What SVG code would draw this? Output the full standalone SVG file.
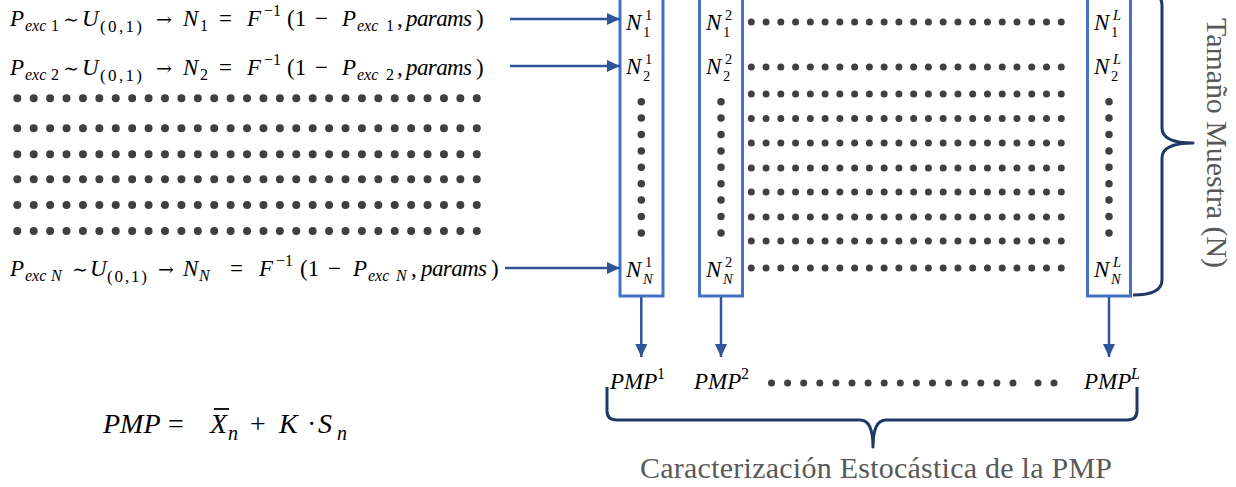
<svg xmlns="http://www.w3.org/2000/svg" width="1236" height="487" viewBox="0 0 1236 487">
<style>
.m{font-family:"Liberation Serif",serif;font-size:23px;fill:#000}
.i{font-style:italic}
.s{font-size:16px}
.b{font-size:14.5px}
.s2{font-size:17px}
.op{font-family:"DejaVu Serif","Liberation Serif",serif;font-size:19px}
.f{font-size:28px}
.fs{font-size:20px}
.dl{stroke:#404040;stroke-width:8;stroke-linecap:round;stroke-dasharray:0 16.41;fill:none}
.dm{stroke:#404040;stroke-width:7;stroke-linecap:round;stroke-dasharray:0 14.76;fill:none}
.dv{stroke:#404040;stroke-width:7.5;stroke-linecap:round;stroke-dasharray:0 16.4;fill:none}
.dp{stroke:#404040;stroke-width:7;stroke-linecap:round;stroke-dasharray:0 16.1;fill:none}
.box{fill:#fff;stroke:#4472C4;stroke-width:3}
.arr{stroke:#2F5597;stroke-width:2.5;fill:none}
.brace{stroke:#1F3864;stroke-width:3;fill:none;stroke-linejoin:round}
.lbl{font-family:"Liberation Serif","Times New Roman",serif;font-size:30px;fill:#595959}
</style>
<defs>
<marker id="ah" markerUnits="userSpaceOnUse" markerWidth="13" markerHeight="12" refX="13" refY="6" orient="auto">
<path d="M0,0 L13,6 L0,12 z" fill="#2F5597"/>
</marker>
</defs>
<rect width="1236" height="487" fill="#fff"/>

<g id="eq1" class="m">
<text x="10" y="26" class="i">P</text>
<text x="25" y="31" class="s i">exc</text>
<text x="51" y="31" class="s">1</text>
<text x="63" y="26" class="op">∼</text>
<text x="82" y="26" class="i">U</text>
<text x="100" y="32" class="s2" textLength="42">(0,1)</text>
<text x="156" y="26" class="op">→</text>
<text x="183" y="26" class="i">N</text>
<text x="200" y="31" class="s">1</text>
<text x="219" y="26">=</text>
<text x="247" y="26" class="i">F</text>
<text x="264" y="16" class="s">−1</text>
<text x="287" y="26">(1</text>
<text x="315" y="26">−</text>
<text x="342" y="26" class="i">P</text>
<text x="357" y="31" class="s i">exc</text>
<text x="386" y="31" class="s">1</text>
<text x="397" y="26">,</text>
<text x="406" y="26" class="i" textLength="66">params</text>
<text x="476" y="26">)</text>
</g>

<g id="eq2" class="m">
<text x="10" y="75" class="i">P</text>
<text x="25" y="80" class="s i">exc</text>
<text x="51" y="80" class="s">2</text>
<text x="63" y="75" class="op">∼</text>
<text x="82" y="75" class="i">U</text>
<text x="100" y="81" class="s2" textLength="42">(0,1)</text>
<text x="156" y="75" class="op">→</text>
<text x="183" y="75" class="i">N</text>
<text x="200" y="80" class="s">2</text>
<text x="219" y="75">=</text>
<text x="247" y="75" class="i">F</text>
<text x="264" y="65" class="s">−1</text>
<text x="287" y="75">(1</text>
<text x="315" y="75">−</text>
<text x="342" y="75" class="i">P</text>
<text x="357" y="80" class="s i">exc</text>
<text x="386" y="80" class="s">2</text>
<text x="397" y="75">,</text>
<text x="406" y="75" class="i" textLength="66">params</text>
<text x="476" y="75">)</text>
</g>

<g id="eqN" class="m">
<text x="10" y="276" class="i">P</text>
<text x="25" y="281" class="s i">exc</text>
<text x="51" y="281" class="s i">N</text>
<text x="72" y="276" class="op">∼</text>
<text x="90" y="276" class="i">U</text>
<text x="107" y="282" class="s2" textLength="40">(0,1)</text>
<text x="158" y="276" class="op">→</text>
<text x="183" y="276" class="i">N</text>
<text x="199" y="281" class="s i">N</text>
<text x="230" y="276">=</text>
<text x="259" y="276" class="i">F</text>
<text x="276" y="266" class="s">−1</text>
<text x="300" y="276">(1</text>
<text x="328" y="276">−</text>
<text x="353" y="276" class="i">P</text>
<text x="368" y="281" class="s i">exc</text>
<text x="396" y="281" class="s i">N</text>
<text x="411" y="276">,</text>
<text x="421" y="276" class="i" textLength="66">params</text>
<text x="491" y="276">)</text>
</g>

<g id="leftdots">
<line class="dl" x1="17.3" y1="98.3" x2="477.2" y2="98.3"/>
<line class="dl" x1="17.3" y1="128.3" x2="477.2" y2="128.3"/>
<line class="dl" x1="17.3" y1="154.3" x2="477.2" y2="154.3"/>
<line class="dl" x1="17.3" y1="179.3" x2="477.2" y2="179.3"/>
<line class="dl" x1="17.3" y1="205" x2="477.2" y2="205"/>
<line class="dl" x1="17.3" y1="231" x2="477.2" y2="231"/>
</g>

<g id="middots">
<line class="dm" x1="751.3" y1="22" x2="1061.6" y2="22"/>
<line class="dm" x1="751.3" y1="67" x2="1061.6" y2="67"/>
<line class="dm" x1="751.3" y1="94" x2="1061.6" y2="94"/>
<line class="dm" x1="751.3" y1="118.5" x2="1061.6" y2="118.5"/>
<line class="dm" x1="751.3" y1="143" x2="1061.6" y2="143"/>
<line class="dm" x1="751.3" y1="168" x2="1061.6" y2="168"/>
<line class="dm" x1="751.3" y1="192" x2="1061.6" y2="192"/>
<line class="dm" x1="751.3" y1="217" x2="1061.6" y2="217"/>
<line class="dm" x1="751.3" y1="241" x2="1061.6" y2="241"/>
<line class="dm" x1="751.3" y1="268" x2="1061.6" y2="268"/>
</g>

<g id="box1">
<rect class="box" x="620" y="-10" width="43" height="306"/>
<g class="m">
<text x="626" y="30" class="i">N</text><text x="645" y="20" class="b">1</text><text x="643" y="37" class="b">1</text>
<text x="626" y="74" class="i">N</text><text x="645" y="64" class="b">1</text><text x="643" y="81" class="b">2</text>
<text x="626" y="277" class="i">N</text><text x="645" y="267" class="b">1</text><text x="643" y="284" class="b i">N</text>
</g>
<line class="dv" x1="641.3" y1="101.7" x2="641.3" y2="233.5"/>
</g>

<g id="box2">
<rect class="box" x="699.5" y="-10" width="43" height="306"/>
<g class="m">
<text x="706" y="30" class="i">N</text><text x="725" y="20" class="b">2</text><text x="723" y="37" class="b">1</text>
<text x="706" y="74" class="i">N</text><text x="725" y="64" class="b">2</text><text x="723" y="81" class="b">2</text>
<text x="706" y="277" class="i">N</text><text x="725" y="267" class="b">2</text><text x="723" y="284" class="b i">N</text>
</g>
<line class="dv" x1="721" y1="101.7" x2="721" y2="233.5"/>
</g>

<g id="boxL">
<rect class="box" x="1087.5" y="-10" width="43" height="306"/>
<g class="m">
<text x="1094" y="30" class="i">N</text><text x="1113" y="20" class="b i">L</text><text x="1111" y="37" class="b">1</text>
<text x="1094" y="74" class="i">N</text><text x="1113" y="64" class="b i">L</text><text x="1111" y="81" class="b">2</text>
<text x="1094" y="277" class="i">N</text><text x="1113" y="267" class="b i">L</text><text x="1111" y="284" class="b i">N</text>
</g>
<line class="dv" x1="1109" y1="101.7" x2="1109" y2="233.5"/>
</g>

<g id="connectors">
<line class="arr" x1="510" y1="19" x2="620" y2="19" marker-end="url(#ah)"/>
<line class="arr" x1="510" y1="66" x2="620" y2="66" marker-end="url(#ah)"/>
<line class="arr" x1="505" y1="268" x2="620" y2="268" marker-end="url(#ah)"/>
<line class="arr" x1="641.3" y1="297" x2="641.3" y2="357" stroke-width="2" marker-end="url(#ah)"/>
<line class="arr" x1="721" y1="297" x2="721" y2="357" stroke-width="2" marker-end="url(#ah)"/>
<line class="arr" x1="1109" y1="297" x2="1109" y2="357" stroke-width="2" marker-end="url(#ah)"/>
</g>

<g id="pmp1" class="m"><text x="610" y="389"><tspan class="i">PMP</tspan><tspan class="s" x="657" dy="-10">1</tspan></text></g>
<g id="pmp2" class="m"><text x="694" y="389"><tspan class="i">PMP</tspan><tspan class="s" x="741" dy="-10">2</tspan></text></g>
<g id="pmpL" class="m"><text x="1084" y="389"><tspan class="i">PMP</tspan><tspan class="s i" x="1131" dy="-10">L</tspan></text></g>
<g id="pmpdots">
<line class="dp" x1="771.5" y1="383" x2="1013.5" y2="383"/>
<circle cx="1038" cy="383" r="3.5" fill="#404040"/>
<circle cx="1054" cy="383" r="3.5" fill="#404040"/>
</g>

<g id="braceN">
<path class="brace" d="M1133,295 Q1162,295 1162,280 L1162,158 Q1162,143 1193,143 Q1162,143 1162,128 L1162,5 Q1162,-10 1133,-10"/>
<text class="lbl" transform="translate(1207,18) rotate(90)" textLength="250">Tamaño Muestra (N)</text>
</g>

<g id="braceL">
<path class="brace" d="M607,387 L607,411 Q607,420 617,420 L860,420 Q873,420 873,447 Q873,420 886,420 L1127,420 Q1137,420 1137,411 L1137,387"/>
<text class="lbl" x="640" y="478" textLength="472">Caracterización Estocástica de la PMP</text>
</g>

<g id="formula" class="m f">
<text x="103" y="433" class="i">PMP</text>
<text x="168" y="433">=</text>
<text x="210" y="433" class="i">X</text>
<line x1="214" y1="409" x2="229" y2="409" stroke="#000" stroke-width="1.8"/>
<text x="228" y="440" class="fs i">n</text>
<text x="250" y="433">+</text>
<text x="279" y="433" class="i">K</text>
<text x="307" y="433">·</text>
<text x="318" y="433" class="i">S</text>
<text x="337" y="440" class="fs i">n</text>
</g>
</svg>
